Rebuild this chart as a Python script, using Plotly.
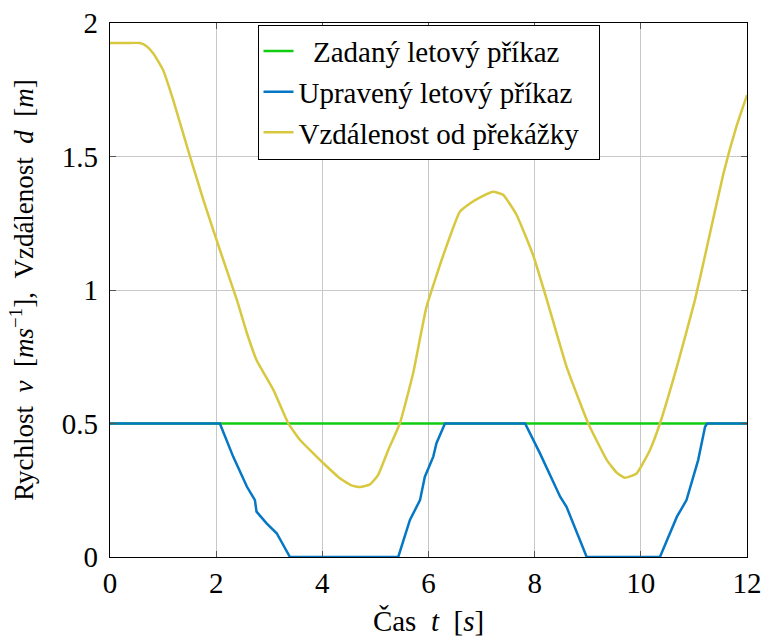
import plotly.graph_objects as go

# Commanded flight speed (green)
t_cmd = [0, 12]
v_cmd = [0.5, 0.5]

# Adjusted flight command (blue)
t_adj = [0, 2.07, 2.32, 2.58, 2.73, 2.76, 2.95, 3.14, 3.39, 5.43, 5.65, 5.84, 5.93, 6.09,
         6.15, 6.31, 7.82, 8.10, 8.48, 8.60, 8.98, 10.36, 10.68, 10.86, 11.08, 11.21, 11.25, 12]
v_adj = [0.5, 0.5, 0.376, 0.263, 0.213, 0.170, 0.126, 0.089, 0.0, 0.0, 0.139, 0.213, 0.30, 0.376,
         0.426, 0.5, 0.5, 0.388, 0.226, 0.188, 0.0, 0.0, 0.151, 0.213, 0.363, 0.488, 0.5, 0.5]

# Distance to obstacle (yellow)
t_dist = [0, 0.3, 0.565, 0.69, 0.816, 1.0, 1.19, 1.507, 1.76, 2.07, 2.39, 2.58, 2.76, 3.08, 3.36,
          3.58, 3.83, 4.02, 4.33, 4.55, 4.71, 4.90, 5.05, 5.24, 5.46, 5.71, 5.96, 6.28, 6.59,
          6.78, 7.0, 7.22, 7.41, 7.66, 7.97, 8.23, 8.60, 9.01, 9.36, 9.55, 9.70, 9.92, 10.17,
          10.36, 10.68, 11.02, 11.24, 11.55, 11.81, 12.0]
d_dist = [1.925, 1.925, 1.925, 1.913, 1.886, 1.824, 1.712, 1.50, 1.337, 1.15, 0.963, 0.838,
          0.738, 0.625, 0.50, 0.438, 0.388, 0.351, 0.295, 0.268, 0.262, 0.272, 0.307, 0.40,
          0.50, 0.688, 0.935, 1.131, 1.293, 1.324, 1.35, 1.368, 1.356, 1.281, 1.131, 0.963,
          0.713, 0.50, 0.363, 0.315, 0.297, 0.313, 0.40, 0.50, 0.713, 0.963, 1.156, 1.431,
          1.618, 1.73]

x_ticks = [0, 2, 4, 6, 8, 10, 12]
y_ticks = [0, 0.5, 1, 1.5, 2]
y_tick_text = ["0", "0.5", "1", "1.5", "2"]

FONT = "'Liberation Serif', 'Times New Roman', serif"
NB = "\u00a0"

fig = go.Figure()
fig.add_trace(go.Scatter(x=t_cmd, y=v_cmd, mode="lines", name=NB * 2 + "Zadaný letový příkaz",
                         line=dict(color="#11cc11", width=2.5)))
fig.add_trace(go.Scatter(x=t_adj, y=v_adj, mode="lines", name="Upravený letový příkaz" + NB * 2,
                         line=dict(color="#0577c4", width=2.5)))
fig.add_trace(go.Scatter(x=t_dist, y=d_dist, mode="lines", name="Vzdálenost od překážky" + NB * 2,
                         line=dict(color="#d8c840", width=2.5, shape="spline", smoothing=0.4)))

y_title = ("Rychlost" + NB * 2 + "<i>v</i>" + NB * 2 + "[<i>ms</i><sup>−1</sup>]," + NB * 2 +
           "Vzdálenost" + NB * 2 + "<i>d</i>" + NB * 2 + "[<i>m</i>]")
x_title = "Čas" + NB * 2 + "<i>t</i>" + NB * 2 + "[<i>s</i>]"

fig.update_layout(
    width=764, height=641,
    margin=dict(l=110, r=17, t=23, b=84, autoexpand=False),
    paper_bgcolor="white", plot_bgcolor="white",
    font=dict(family=FONT, size=28, color="black"),
    showlegend=True,
    legend=dict(x=0.5, xanchor="center", y=0.997, yanchor="top",
                bgcolor="white", bordercolor="black", borderwidth=1,
                font=dict(family=FONT, size=29), tracegroupgap=0),
    xaxis=dict(range=[0, 12], tickvals=x_ticks, showgrid=True, gridcolor="#c8c8c8", gridwidth=1,
               showline=True, linecolor="black", linewidth=1.2, mirror="ticks",
               ticks="inside", ticklen=6, tickcolor="#555", zeroline=False, automargin=False,
               tickfont=dict(size=29),
               title=dict(text=x_title, font=dict(size=29), standoff=12)),
    yaxis=dict(range=[0, 2], tickvals=y_ticks, ticktext=y_tick_text, showgrid=True,
               gridcolor="#c8c8c8", gridwidth=1, automargin=False,
               showline=True, linecolor="black", linewidth=1.2, mirror="ticks",
               ticks="inside", ticklen=6, tickcolor="#555", zeroline=False,
               tickfont=dict(size=29), ticklabelstandoff=5,
               title=dict(text=y_title, font=dict(size=27), standoff=20)),
)

fig.write_html("out.html")
